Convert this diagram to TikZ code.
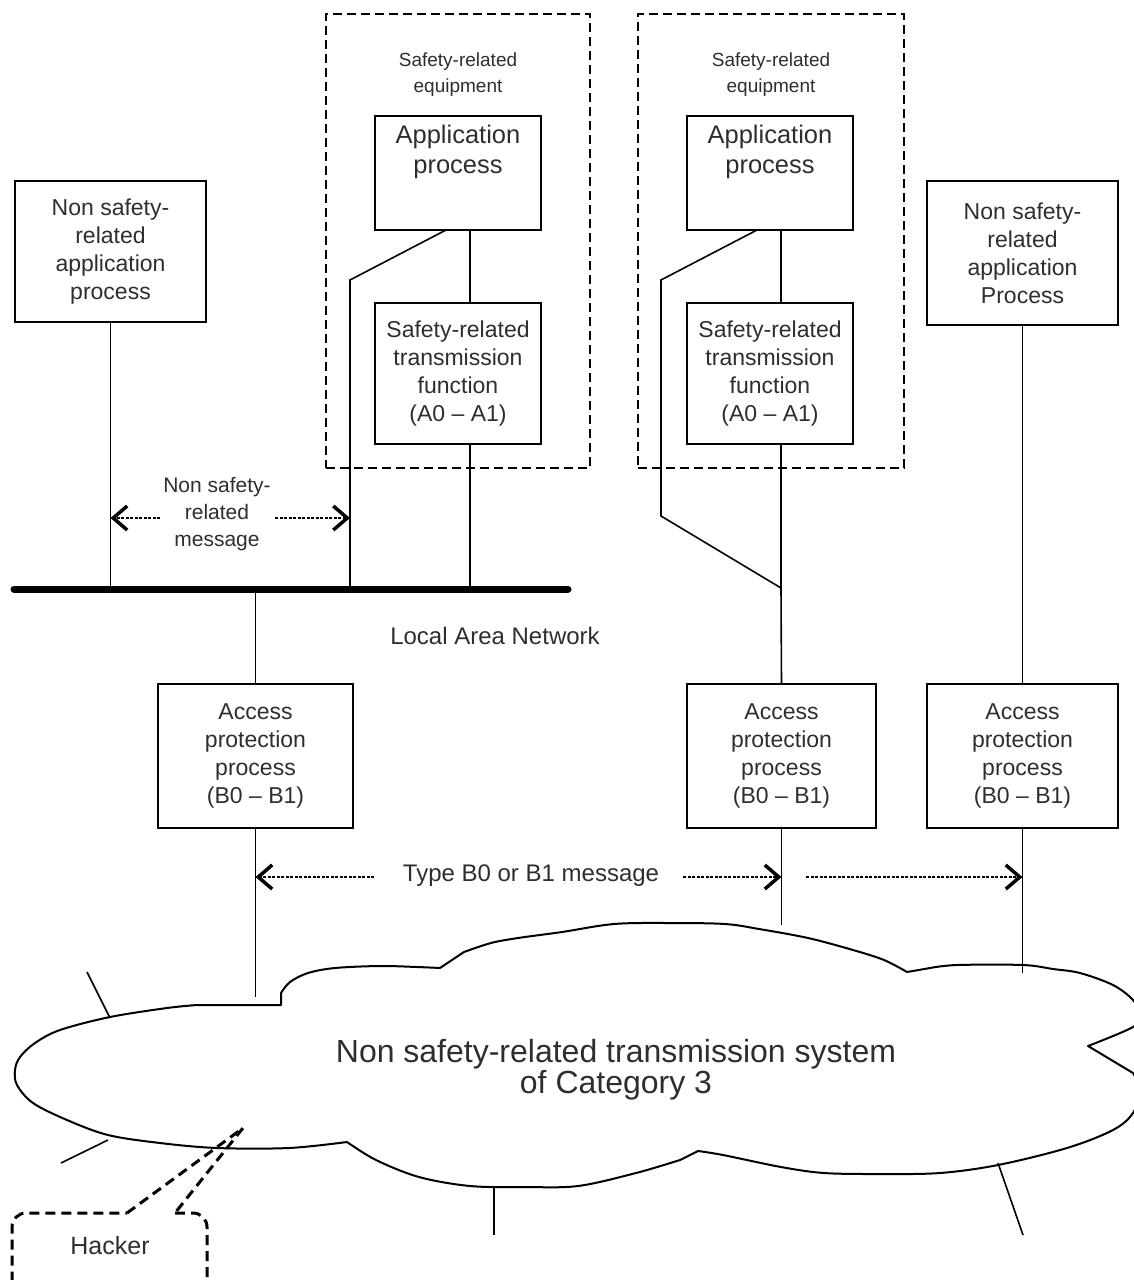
\documentclass[tikz,border=0pt]{standalone}
\usepackage{fontspec}
\setmainfont{Liberation Sans}
\usetikzlibrary{arrows.meta}
\begin{document}
\begin{tikzpicture}[x=1pt,y=-1pt,
  lbl/.style={text=black!82, align=center, inner sep=0pt},
  box/.style={draw=black, line width=1.6pt, inner sep=0pt, lbl, font=\fontsize{23}{28}\selectfont},
  apptext/.style={lbl, font=\fontsize{25.5}{30}\selectfont},
  equip/.style={draw=black, line width=2.5pt, dash pattern=on 9pt off 5pt, inner sep=0pt},
  wire/.style={line width=1.6pt},
  bus/.style={line width=7pt, line cap=round},
  msg/.style={line width=2.5pt, dash pattern=on 3pt off 1.5pt,
    -{Straight Barb[length=14pt, width=24pt, line width=3.5pt]}},
  cloudline/.style={line width=2pt, line join=round},
  hack/.style={line width=3pt, dash pattern=on 10pt off 6pt},
]
\useasboundingbox (0,0) rectangle (1134,1280);
\clip (0,0) rectangle (1134,1280);

% safety-related equipment enclosures
\node[equip, minimum width=264pt, minimum height=454pt] (eq1) at (458,241) {};
\node[equip, minimum width=266pt, minimum height=454pt] (eq2) at (771,241) {};
\node[lbl, font=\fontsize{19}{26}\selectfont] (eq1t) at (458,75) {Safety-related\\equipment};
\node[lbl, font=\fontsize{19}{26}\selectfont] (eq2t) at (771,75) {Safety-related\\equipment};

% application processes
\node[box, minimum width=166pt, minimum height=114pt] (app1) at (458,173) {};
\node[apptext] (app1t) at (458,152) {Application\\process};
\node[box, minimum width=166pt, minimum height=114pt] (app2) at (770,173) {};
\node[apptext] (app2t) at (770,152) {Application\\process};

% safety-related transmission functions
\node[box, minimum width=166pt, minimum height=141pt] (srtf1) at (458,373.5)
  {Safety-related\\transmission\\function\\(A0 -- A1)};
\node[box, minimum width=166pt, minimum height=141pt] (srtf2) at (770,373.5)
  {Safety-related\\transmission\\function\\(A0 -- A1)};

% non safety-related application processes
\node[box, minimum width=191pt, minimum height=141pt] (nsl) at (110.5,251.5)
  {Non safety-\\related\\application\\process};
\node[box, minimum width=191pt, minimum height=144pt] (nsr) at (1022.5,253)
  {Non safety-\\related\\application\\Process};

% access protection processes
\node[box, minimum width=195pt, minimum height=144pt] (ap1) at (255.5,756)
  {Access\\protection\\process\\(B0 -- B1)};
\node[box, minimum width=189pt, minimum height=144pt] (ap2) at (781.5,756)
  {Access\\protection\\process\\(B0 -- B1)};
\node[box, minimum width=191pt, minimum height=144pt] (ap3) at (1022.5,756)
  {Access\\protection\\process\\(B0 -- B1)};

% local area network
\coordinate (busL) at (14,589);
\coordinate (busR) at (568,589);
\draw[bus] (busL) -- (busR);
\node[lbl, font=\fontsize{24}{28}\selectfont] (lan) at (495,636) {Local Area Network};

% connections of the left equipment
\coordinate (s1a) at (446,230);
\coordinate (s1b) at (350,280);
\draw[wire] ([xshift=12pt]app1.south) -- ([xshift=12pt]app1.south |- srtf1.north);
\draw[wire] ([xshift=12pt]srtf1.south) -- ([xshift=12pt]srtf1.south |- busL);
\draw[wire] (s1a) -- (s1b) -- (s1b |- busL);
\draw[wire] (nsl.south) -- (nsl.south |- busL);
\draw[wire] (ap1.north) -- (ap1.north |- busL);

% connections of the right equipment
\coordinate (s2a) at (757,230);
\coordinate (s2b) at (661,280);
\coordinate (s2c) at (661,516);
\coordinate (s2d) at (781,588);
\draw[wire] (781,230) -- (781,303);
\draw[wire] (781,444) -- (s2d) -- (ap2.north);
\draw[wire] (s2a) -- (s2b) -- (s2c) -- (s2d);
\draw[wire] (nsr.south) -- (ap3.north);

% links into the transmission system
\coordinate (c1) at (256,997);
\coordinate (c2) at (781,925);
\coordinate (c3) at (1023,973);
\draw[wire] (ap1.south) -- (ap1.south |- c1);
\draw[wire] (ap2.south) -- (ap2.south |- c2);
\draw[wire] (ap3.south) -- (ap3.south |- c3);

% messages
\node[lbl, font=\fontsize{21}{27}\selectfont] (nsm) at (217,514) {Non safety-\\related\\message};
\coordinate (m1a) at (160,518);
\coordinate (m1b) at (275,518);
\draw[msg] (m1a) -- (nsl.south |- m1a);
\draw[msg] (m1b) -- (s1b |- m1b);

\node[lbl, font=\fontsize{24}{28}\selectfont] (bm) at (531,876) {Type B0 or B1 message};
\coordinate (m2a) at (374,877);
\coordinate (m2b) at (683,877);
\coordinate (m2c) at (806,877);
\draw[msg] (m2a) -- (ap1.south |- m2a);
\draw[msg] (m2b) -- (ap2.south |- m2b);
\draw[msg] (m2c) -- (ap3.south |- m2c);

% cloud: non safety-related transmission system
\draw[cloudline]
  plot[smooth, tension=0.55] coordinates {(347,1142) (289,1148) (217,1148) (160,1143) (108,1135)
     (67,1120) (33,1103) (17,1085) (15,1070) (20,1057) (35,1043) (60,1030) (110,1017)
     (167,1008) (197,1005)}
  -- (281,1005)
  -- plot[smooth, tension=0.55] coordinates {(281,993) (290,982) (308,973) (335,968) (380,966) (417,967) (440,968)}
  -- plot[smooth, tension=0.55] coordinates {(464,952) (491,943) (518,938) (562,932) (614,924)
     (670,923) (725,924) (759,929) (808,938) (853,950) (884,960) (907,972)}
  -- plot[smooth, tension=0.55] coordinates {(930,968) (957,965) (1023,965) (1053,969) (1080,973)
     (1113,985) (1133,1000) (1140,1015) (1133,1027) (1088,1046)}
  -- plot[smooth, tension=0.55] coordinates {(1133,1073) (1140,1090) (1133,1113) (1113,1130) (1067,1148)
     (998,1165) (940,1173) (880,1174) (824,1173) (781,1167) (723,1155) (698,1151)}
  -- plot[smooth, tension=0.55] coordinates {(680,1160) (636,1173) (578,1186) (524,1187) (470,1186)
     (419,1177) (376,1160) (347,1142)}
  -- cycle;
\node[lbl, font=\fontsize{32}{31}\selectfont] (cloudt) at (616,1070)
  {Non safety-related transmission system\\of Category 3};

% stubs around the cloud
\draw[wire] (87,972) -- (110,1018);
\draw[wire] (61,1163) -- (108,1140);
\draw[wire] (494,1186) -- (494,1235);
\draw[wire] (998,1163) -- (1023,1235);

% hacker callout
\coordinate (hk) at (243,1128);
\draw[hack] (127,1213) -- (hk) -- (175,1213);
\draw[hack, rounded corners=14pt] (175,1213) -- (207,1213) -- (207,1295) -- (12,1295) -- (12,1213) -- (127,1213);
\node[lbl, font=\fontsize{25}{28}\selectfont] (hacker) at (110,1246) {Hacker};
\end{tikzpicture}
\end{document}
